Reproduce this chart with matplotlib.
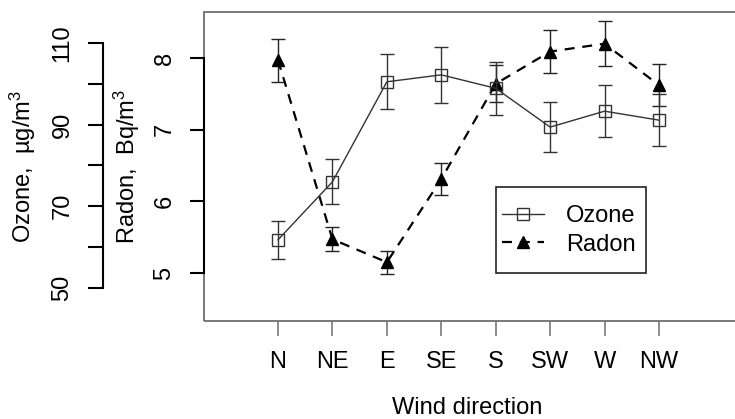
import matplotlib
matplotlib.use('Agg')
import matplotlib.pyplot as plt
import numpy as np
from matplotlib.patches import Rectangle
from matplotlib.lines import Line2D

plt.rcParams['font.family'] = ['Liberation Sans', 'DejaVu Sans']
plt.rcParams['mathtext.fontset'] = 'custom'
plt.rcParams['mathtext.rm'] = 'Liberation Sans'
plt.rcParams['mathtext.it'] = 'Liberation Sans:italic'

# ---- data ----
directions = ['N', 'NE', 'E', 'SE', 'S', 'SW', 'W', 'NW']
ozone = [61.8, 76.0, 100.5, 102.2, 98.9, 89.4, 93.3, 91.1]
ozone_err = [4.7, 5.5, 6.7, 6.8, 6.5, 6.2, 6.3, 6.4]
radon = [7.97, 5.47, 5.15, 6.31, 7.64, 8.09, 8.20, 7.62]
radon_err = [0.30, 0.17, 0.16, 0.22, 0.26, 0.30, 0.31, 0.29]
ozone_ticks = [50, 60, 70, 80, 90, 100, 110]
ozone_ticklabels = ['50', '', '70', '', '90', '', '110']
radon_ticks = [5, 6, 7, 8]
radon_ticklabels = ['5', '6', '7', '8']

FS = 17
W, H = 735, 419
fig = plt.figure(figsize=(W / 100, H / 100), dpi=100)
L, R, T, B = 204, 737, 12, 321
ax = fig.add_axes([L / W, 1 - B / H, (R - L) / W, (B - T) / H])
ax_o = ax.twinx()

x = np.arange(1, len(directions) + 1)
ax.set_xlim(-0.36, 9.433)
ax.set_ylim(4.33, 8.642)
ax_o.set_ylim(41.91, 117.59)

box_color = '#6e6e6e'
for s in ['top', 'right', 'bottom']:
    ax.spines[s].set_visible(False)
    ax_o.spines[s].set_visible(False)
ax.spines['left'].set_bounds(5, 8)
ax.spines['left'].set_linewidth(1.5)
ax.spines['left'].set_color('black')
ax.add_artist(Rectangle((0, 0), 1, 1, transform=ax.transAxes, fill=False,
                        ec=box_color, lw=1.3, clip_on=False, zorder=1))

ax_o.yaxis.set_ticks_position('left')
ax_o.yaxis.set_label_position('left')
ax_o.spines['left'].set_visible(True)
ax_o.spines['left'].set_position(('outward', 72.7))
ax_o.spines['left'].set_bounds(50, 110)
ax_o.spines['left'].set_linewidth(1.5)

# x axis
ax.set_xticks(x, directions)
ax.tick_params(axis='x', length=10.8, width=1.1, color=box_color, pad=11,
               labelsize=FS)
# radon axis
ax.set_yticks(radon_ticks, radon_ticklabels)
ax.tick_params(axis='y', length=10, width=1.5, pad=10.5, labelsize=FS,
               labelrotation=90)
for t in ax.get_yticklabels():
    t.set_va('center')
# ozone axis
ax_o.set_yticks(ozone_ticks, ozone_ticklabels)
ax_o.tick_params(axis='y', length=10.8, width=1.5, pad=10.5, labelsize=FS,
                 labelrotation=90)
for t in ax_o.get_yticklabels():
    t.set_va('center')

# data
oz_col = '#333333'
ax.errorbar(x, radon, yerr=radon_err, fmt='none', ecolor='#222222',
            elinewidth=1.0, capsize=5, capthick=1.0)
ax.plot(x, radon, ls=(0, (4.5, 3.5)), color='black', lw=1.6, marker='^',
        ms=9, mfc='black', mec='black')
ax_o.errorbar(x, ozone, yerr=ozone_err, fmt='none', ecolor=oz_col,
              elinewidth=1.0, capsize=5, capthick=1.0)
ax_o.plot(x, ozone, '-', color=oz_col, lw=1.0, marker='s', ms=8,
          mfc='none', mec=oz_col, mew=1.0)

# labels
ax.set_xlabel('Wind direction', fontsize=FS, va='center', ha='center')
ax.xaxis.set_label_coords((467 - L) / (R - L), (B - 408) / (B - T))
ax.set_ylabel('Radon,  Bq/m$^{3}$', fontsize=FS, va='center', ha='center')
ax.yaxis.set_label_coords((127 - L) / (R - L), 0.5)
ax_o.set_ylabel('Ozone,  µg/m$^{3}$', fontsize=FS, va='center', ha='center')
ax_o.yaxis.set_label_coords((23 - L) / (R - L), 0.5)

# legend (frame drawn separately to get R-like padding)
handles = [
    Line2D([], [], color=oz_col, lw=1.0, marker='s', ms=8, mfc='none',
           mec=oz_col),
    Line2D([], [], color='black', lw=1.6, ls=(0, (4.5, 3.5)), marker='^',
           ms=9, mfc='black', mec='black'),
]
leg = ax_o.legend(handles, ['Ozone', 'Radon'], loc='center left',
                  bbox_to_anchor=(502 / W, 1 - 230.5 / H),
                  bbox_transform=fig.transFigure, fontsize=FS,
                  handlelength=1.78, handletextpad=0.93, borderpad=0,
                  borderaxespad=0, labelspacing=0.26, frameon=False,
                  numpoints=1)
fig.add_artist(Rectangle((496 / W, 1 - 273 / H), 150 / W, 86 / H,
                         transform=fig.transFigure, fill=False,
                         ec='#222222', lw=1.2, zorder=5))

fig.savefig('out.png', dpi=100)
